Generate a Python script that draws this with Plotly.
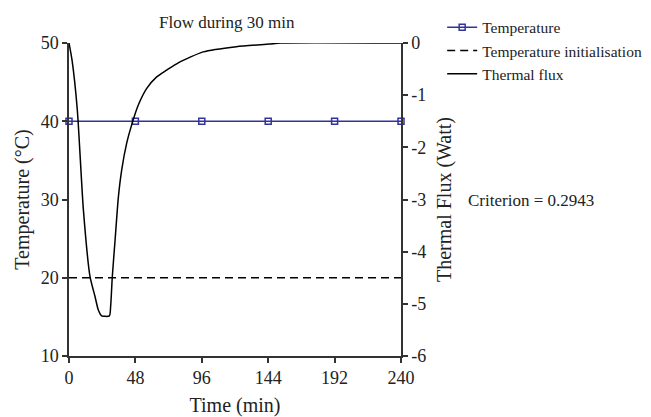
import plotly.graph_objects as go

# ---- data ----
time_temp = [0, 48, 96, 144, 192, 240]
temperature = [40, 40, 40, 40, 40, 40]

time_init = [0, 240]
temp_init = [20, 20]

time_flux = [0, 2.2, 6, 10.4, 15.2, 18.8, 21.2, 23.6, 29.2, 30.1, 31.3, 33.3, 35.7,
             38.1, 41.7, 45.3, 50.1, 56.2, 63.4, 70.6, 79, 97, 121, 145, 153, 240]
flux = [0, -0.33, -1.28, -3.2, -4.48, -4.86, -5.12, -5.23, -5.23, -5.05, -4.48, -3.78, -2.95,
        -2.43, -1.92, -1.57, -1.19, -0.87, -0.65, -0.52, -0.38, -0.17, -0.07, -0.02, 0, 0]

x_ticks = [0, 48, 96, 144, 192, 240]
y_ticks = [10, 20, 30, 40, 50]
y2_ticks = [0, -1, -2, -3, -4, -5, -6]
y2_labels = ["0", "-1", "-2", "-3", "-4", "-5", "-6"]

FONT = "Liberation Serif, Times New Roman, serif"
AX = "#333333"
BLUE = "#33339c"

fig = go.Figure()
fig.add_trace(go.Scatter(
    x=time_temp, y=temperature, name="Temperature", mode="lines+markers",
    line=dict(color=BLUE, width=1.5),
    marker=dict(symbol="square-open", size=6, color=BLUE, line=dict(width=1.5, color=BLUE)),
    cliponaxis=False))
fig.add_trace(go.Scatter(
    x=time_init, y=temp_init, name="Temperature initialisation", mode="lines",
    line=dict(color="black", width=1.3, dash="8px,5px")))
fig.add_trace(go.Scatter(
    x=time_flux, y=flux, name="Thermal flux", mode="lines", yaxis="y2",
    line=dict(color="black", width=1.5, shape="spline", smoothing=0.6)))

axis_common = dict(showgrid=False, zeroline=False, showline=True, linecolor=AX, linewidth=1.5,
                   ticks="outside", ticklen=5, tickwidth=1.5, tickcolor=AX, automargin=False,
                   tickfont=dict(family=FONT, size=18, color="#222"))

# page body adds an 8px offset, so the figure is 8px smaller and margins shifted
fig.update_layout(
    width=643, height=409,
    margin=dict(l=61, r=250, t=35, b=61, autoexpand=False),
    paper_bgcolor="white", plot_bgcolor="white",
    font=dict(family=FONT, color="#222"),
    showlegend=True,
    legend=dict(x=1.124, y=1.103, xanchor="left", yanchor="top",
                font=dict(family=FONT, size=15.5, color="#222"),
                bgcolor="rgba(0,0,0,0)", tracegroupgap=0),
    xaxis=dict(range=[0, 240], tickvals=x_ticks,
               title=dict(text="Time (min)", font=dict(family=FONT, size=20), standoff=15),
               **axis_common),
    yaxis=dict(range=[10, 50], tickvals=y_ticks,
               title=dict(text="Temperature (°C)", font=dict(family=FONT, size=20), standoff=6),
               **axis_common),
    yaxis2=dict(range=[-6, 0], tickvals=y2_ticks, ticktext=y2_labels, overlaying="y", side="right",
                title=dict(text="Thermal Flux (Watt)", font=dict(family=FONT, size=20), standoff=12),
                **axis_common),
    annotations=[
        dict(text="Flow during 30 min", xref="paper", yref="paper", x=0.477, y=1.067,
             xanchor="center", yanchor="middle",
             showarrow=False, font=dict(family=FONT, size=17, color="#222")),
        dict(text="Criterion = 0.2943", xref="paper", yref="paper", x=1.196, y=0.498,
             xanchor="left", yanchor="middle", showarrow=False,
             font=dict(family=FONT, size=17, color="#222")),
    ],
)

fig.write_html("out.html")
